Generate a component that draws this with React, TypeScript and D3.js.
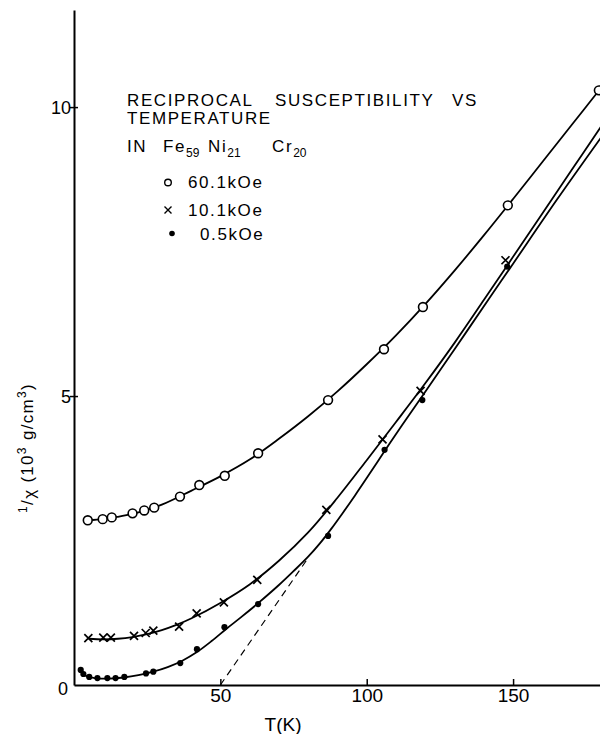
import React, { useEffect, useRef } from "react";
import * as d3 from "d3";

// measured points, T in K, 1/chi in 10^3 g/cm3
const tHigh = [4.7, 9.8, 12.9, 20.0, 24.0, 27.4, 36.2, 42.8, 51.5, 62.9, 86.8, 105.9, 119.2, 148.2, 179.3];
const chiHigh = [2.85, 2.87, 2.9, 2.97, 3.02, 3.07, 3.26, 3.46, 3.62, 4.01, 4.93, 5.81, 6.54, 8.3, 10.29];

const tMid = [4.9, 10.0, 12.6, 20.5, 24.5, 27.1, 35.9, 41.9, 51.2, 62.6, 86.2, 105.4, 118.4, 147.4];
const chiMid = [0.81, 0.82, 0.82, 0.85, 0.9, 0.94, 1.01, 1.24, 1.43, 1.82, 3.03, 4.25, 5.09, 7.35];

const tLow = [2.3, 3.2, 5.2, 8.0, 11.4, 14.2, 17.2, 24.6, 27.1, 36.3, 42.0, 51.4, 62.9, 86.8, 106.1, 119.0, 148.0];
const chiLow = [0.26, 0.19, 0.14, 0.12, 0.12, 0.12, 0.14, 0.2, 0.23, 0.38, 0.62, 1.0, 1.4, 2.58, 4.07, 4.93, 7.24];

// hand drawn fit curves
const fitHighT = [4.7, 10, 15, 20, 25, 30, 40, 50, 60, 70, 80, 90, 100, 110, 120, 130, 140, 150, 160, 170, 180];
const fitHighChi = [2.85, 2.87, 2.91, 2.96, 3.03, 3.12, 3.36, 3.61, 3.9, 4.26, 4.65, 5.08, 5.55, 6.05, 6.59, 7.17, 7.78, 8.41, 9.05, 9.69, 10.33];

const fitMidT = [5, 10, 15, 20, 25, 30, 35, 40, 50, 60, 70, 80, 90, 100, 110, 120, 130, 140, 150, 160, 170, 180];
const fitMidChi = [0.8, 0.79, 0.8, 0.83, 0.88, 0.95, 1.04, 1.15, 1.42, 1.74, 2.15, 2.64, 3.24, 3.89, 4.55, 5.22, 5.92, 6.66, 7.41, 8.16, 8.91, 9.66];

const fitLowT = [2.3, 4, 7, 12, 17, 22, 27, 32, 37, 42, 47, 52, 57, 63, 70, 75, 80, 84, 88, 92, 96, 100, 106, 112, 119, 130, 142, 150, 165, 180];
const fitLowChi = [0.26, 0.16, 0.12, 0.11, 0.13, 0.17, 0.23, 0.31, 0.42, 0.57, 0.76, 0.97, 1.17, 1.42, 1.73, 1.97, 2.22, 2.45, 2.71, 2.99, 3.28, 3.58, 4.04, 4.49, 5.0, 5.81, 6.7, 7.29, 8.4, 9.47];

// Curie-Weiss extrapolation (dashed)
const dashT = [50, 80];
const dashChi = [0, 2.2];

const xTicks = [50, 100, 150];
const yTicks = [0, 5, 10];

const W = 600;
const H = 734;

function App() {
  const ref = useRef<SVGSVGElement>(null);

  useEffect(() => {
    const svg = d3.select(ref.current);
    svg.selectAll("*").remove();

    const font = "'Liberation Sans', Arial, sans-serif";
    const narrow = "'Liberation Sans Narrow', 'Liberation Sans', Arial, sans-serif";

    const x = d3.scaleLinear().domain([0, 180]).range([74, 600.9]);
    const y = d3.scaleLinear().domain([0, 11.68]).range([685, 10]);

    // x axis
    const gx = svg.append("g")
      .attr("transform", `translate(0,${y(0)})`)
      .call(d3.axisBottom(x).tickValues(xTicks).tickSizeInner(-6).tickSizeOuter(0).tickPadding(3).tickFormat(d3.format("d")));
    gx.select(".domain").attr("stroke", "#000").attr("stroke-width", 2);
    gx.selectAll(".tick line").attr("stroke", "#000").attr("stroke-width", 1.5);
    gx.selectAll(".tick text").attr("font-size", 19).attr("font-family", narrow).attr("fill", "#000");

    // y axis
    const gy = svg.append("g")
      .attr("transform", `translate(${x(0)},0)`)
      .call(d3.axisLeft(y).tickValues(yTicks).tickSizeInner(4).tickSizeOuter(0).tickPadding(0));
    gy.select(".domain").attr("stroke", "#000").attr("stroke-width", 2);
    gy.selectAll<SVGLineElement, number>(".tick line")
      .attr("stroke", "#000").attr("stroke-width", 1.5)
      .attr("x1", 4)
      .filter(d => d === 0).remove();
    gy.selectAll<SVGTextElement, number>(".tick text")
      .attr("font-size", 18).attr("font-family", narrow).attr("fill", "#000")
      .attr("x", d => (d === 0 ? -6 : -3))
      .attr("dy", d => (d === 0 ? "0.55em" : "0.36em"));

    // axis titles
    svg.append("text")
      .attr("x", 283).attr("y", 731)
      .attr("text-anchor", "middle")
      .attr("font-family", font).attr("font-size", 19)
      .text("T(K)");

    const yl = svg.append("text")
      .attr("transform", "translate(33,448) rotate(-90)")
      .attr("text-anchor", "middle")
      .attr("font-family", font).attr("font-size", 17)
      .attr("letter-spacing", 1.3);
    yl.append("tspan").attr("font-size", 12).attr("dy", -6).text("1");
    yl.append("tspan").attr("dy", 6).text("/");
    yl.append("tspan").attr("dy", 2).text("χ");
    yl.append("tspan").attr("dy", -2).text(" (10");
    yl.append("tspan").attr("font-size", 12).attr("dy", -7).text("3");
    yl.append("tspan").attr("dy", 7).text("  g/cm");
    yl.append("tspan").attr("font-size", 12).attr("dy", -7).text("3");
    yl.append("tspan").attr("dy", 7).text(")");

    // curves
    const line = d3.line<[number, number]>()
      .x(d => x(d[0])).y(d => y(d[1]))
      .curve(d3.curveCatmullRom.alpha(0.5));
    const curves: [number[], number[]][] = [
      [fitHighT, fitHighChi],
      [fitMidT, fitMidChi],
      [fitLowT, fitLowChi],
    ];
    svg.append("g").selectAll("path")
      .data(curves)
      .join("path")
      .attr("d", d => line(d[0].map((t, i) => [t, d[1][i]] as [number, number])))
      .attr("fill", "none").attr("stroke", "#000").attr("stroke-width", 1.8);

    svg.append("path")
      .attr("d", d3.line<number>().x(d => x(d)).y((d, i) => y(dashChi[i]))(dashT))
      .attr("fill", "none").attr("stroke", "#000").attr("stroke-width", 1.2)
      .attr("stroke-dasharray", "7,5");

    // markers
    svg.append("g").selectAll("circle")
      .data(tHigh)
      .join("circle")
      .attr("cx", d => x(d)).attr("cy", (d, i) => y(chiHigh[i]))
      .attr("r", 4.4).attr("fill", "#fff").attr("stroke", "#000").attr("stroke-width", 1.6);

    const cr = 4;
    svg.append("g").selectAll("path")
      .data(tMid)
      .join("path")
      .attr("d", (d, i) => {
        const cx = x(d), cy = y(chiMid[i]);
        return `M${cx - cr},${cy - cr}L${cx + cr},${cy + cr}M${cx - cr},${cy + cr}L${cx + cr},${cy - cr}`;
      })
      .attr("stroke", "#000").attr("stroke-width", 1.7);

    svg.append("g").selectAll("circle")
      .data(tLow)
      .join("circle")
      .attr("cx", d => x(d)).attr("cy", (d, i) => y(chiLow[i]))
      .attr("r", 3.1).attr("fill", "#000");

    // caption block
    const cap = svg.append("g")
      .attr("font-family", font).attr("font-size", 17)
      .attr("letter-spacing", 1.6).attr("fill", "#000");
    const l1 = cap.append("text").attr("y", 106);
    l1.append("tspan").attr("x", 127).text("RECIPROCAL");
    l1.append("tspan").attr("x", 275).text("SUSCEPTIBILITY");
    l1.append("tspan").attr("x", 452).text("VS");
    cap.append("text").attr("x", 127).attr("y", 124).text("TEMPERATURE");
    cap.append("text").attr("x", 127).attr("y", 152).text("IN");
    const alloy: [string, string, number][] = [["Fe", "59", 163], ["Ni", "21", 208], ["Cr", "20", 272]];
    alloy.forEach(([el, sub, px]) => {
      const t = cap.append("text").attr("x", px).attr("y", 152);
      t.append("tspan").text(el);
      t.append("tspan").attr("font-size", 12).attr("letter-spacing", 0).attr("dy", 5).text(sub);
    });

    cap.append("circle").attr("cx", 168).attr("cy", 182.5).attr("r", 3.3)
      .attr("fill", "#fff").attr("stroke", "#000").attr("stroke-width", 1.4);
    cap.append("text").attr("x", 188).attr("y", 188).text("60.1kOe");
    cap.append("path").attr("d", "M164.5,206.5L171.5,213.5M164.5,213.5L171.5,206.5")
      .attr("stroke", "#000").attr("stroke-width", 1.4);
    cap.append("text").attr("x", 188).attr("y", 216).text("10.1kOe");
    cap.append("circle").attr("cx", 172).attr("cy", 233.5).attr("r", 2.8).attr("fill", "#000");
    cap.append("text").attr("x", 200).attr("y", 240).text("0.5kOe");
  }, []);

  return (
    <svg
      ref={ref}
      width={W}
      height={H}
      style={{ position: "absolute", left: 0, top: 0, display: "block", background: "#fff" }}
    />
  );
}

export default App;
